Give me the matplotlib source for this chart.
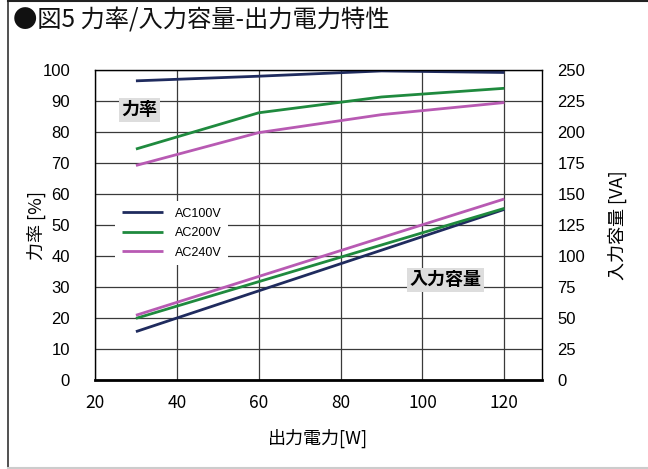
import matplotlib
matplotlib.use("Agg")
import matplotlib.pyplot as plt
from matplotlib.lines import Line2D

plt.rcParams['font.family'] = ['Noto Sans CJK JP', 'DejaVu Sans']

# data
power = [30, 60, 90, 120]                 # 出力電力 [W]
pf_100 = [96.5, 98.0, 99.7, 99.2]        # 力率 [%]
pf_200 = [74.5, 86.2, 91.3, 94.1]
pf_240 = [69.2, 79.8, 85.6, 89.5]
va_100 = [39.0, 71.9, 104.7, 137.6]      # 入力容量 [VA]
va_200 = [49.7, 79.3, 108.9, 138.4]
va_240 = [52.2, 83.5, 114.8, 146.0]

labels = ['AC100V', 'AC200V', 'AC240V']
colors = ['#1f2b5e', '#1f8a3e', '#b85ab3']

x_ticks = [20, 40, 60, 80, 100, 120]
pf_ticks = list(range(0, 101, 10))
va_ticks = list(range(0, 251, 25))

fig = plt.figure(figsize=(6.48, 4.69), dpi=100)
W, H = 648, 469

# outer frame of the figure
fig.add_artist(Line2D([7.5 / W, 7.5 / W], [0, 1], color='#333333', lw=1.2))
fig.add_artist(Line2D([7.5 / W, 1], [1 - 1.5 / H, 1 - 1.5 / H], color='#222222', lw=1.5))
fig.add_artist(Line2D([7.5 / W, 1], [1.5 / H, 1.5 / H], color='#cccccc', lw=1.5))

fig.text(13 / W, 1 - 21 / H, '●図5 力率/入力容量-出力電力特性', fontsize=17.5,
         va='center', ha='left', color='#111111')

ax = fig.add_axes([95 / W, 1 - 380 / H, 447 / W, 310 / H])
ax2 = ax.twinx()

ax.set_xlim(20, 129.2)
ax.set_ylim(0, 100)
ax2.set_ylim(0, 250)
ax.set_xticks(x_ticks)
ax.set_yticks(pf_ticks)
ax2.set_yticks(va_ticks)

ax.grid(True, color='#3a3a3a', lw=0.9)
ax.set_axisbelow(True)

for s in ['left', 'right', 'top']:
    ax.spines[s].set_linewidth(1.0)
ax.spines['bottom'].set_linewidth(2.0)
for s in ax2.spines.values():
    s.set_visible(False)

ax.tick_params(axis='y', length=0, pad=18, labelsize=12)
ax.tick_params(axis='x', length=0, pad=10, labelsize=12.5)
ax2.tick_params(axis='y', length=0, pad=11, labelsize=12)
for t in ax.get_yticklabels() + ax2.get_yticklabels():
    t.set_fontfamily(['Liberation Sans', 'DejaVu Sans'])

lw = 2.0
for y, c, lab in zip([pf_100, pf_200, pf_240], colors, labels):
    ax.plot(power, y, color=c, lw=lw, label=lab, solid_capstyle='butt')
for y, c in zip([va_100, va_200, va_240], colors):
    ax2.plot(power, y, color=c, lw=lw, solid_capstyle='butt')

leg = ax.legend(loc='center', bbox_to_anchor=(0.172, 0.474), frameon=True,
                fancybox=False, edgecolor='none', facecolor='white', framealpha=1,
                handlelength=3.3, handletextpad=1.0, labelspacing=0.6,
                prop={'family': 'Liberation Sans', 'size': 9}, borderpad=0.5)
leg.set_zorder(5)

box = dict(boxstyle='square,pad=0.15', facecolor='#dddddd', edgecolor='none')
ax.text(30.8, 87.1, '力率', fontsize=13, fontweight='bold', ha='center',
        va='center', bbox=box)
ax.text(105.6, 32.3, '入力容量', fontsize=13, fontweight='bold', ha='center',
        va='center', bbox=box)

ax.set_ylabel('力率 [%]', fontsize=13, labelpad=-3)
ax2.set_ylabel('入力容量 [VA]', fontsize=13, labelpad=16)
ax.set_xlabel('出力電力[W]', fontsize=13, labelpad=12)

fig.savefig('out.png', dpi=100)
